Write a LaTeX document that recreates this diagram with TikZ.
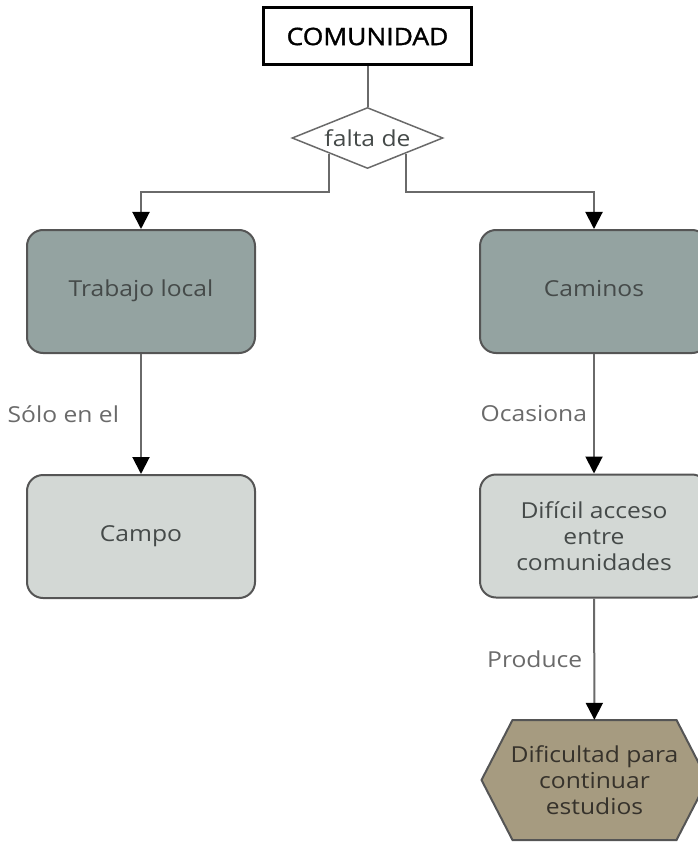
\documentclass[tikz,border=0pt]{standalone}
\usepackage{fontspec}
\setmainfont{Open Sans}[FakeStretch=1.12]
\newfontfamily\headfont{Open Sans}[FakeStretch=1.1, FakeBold=1.5]
\usetikzlibrary{arrows.meta,shapes.geometric,calc}
\definecolor{edgegray}{HTML}{6A6A6A}
\definecolor{boxline}{HTML}{555555}
\definecolor{darkfill}{HTML}{94A3A1}
\definecolor{lightfill}{HTML}{D3D8D5}
\definecolor{hexfill}{HTML}{A69B80}
\definecolor{textgray}{HTML}{454A49}
\definecolor{hextext}{HTML}{36322B}
\begin{document}
\begin{tikzpicture}[x=1pt,y=-1pt,
  every node/.style={font=\fontsize{22}{26}\selectfont},
  topbox/.style={draw=black, line width=3pt, minimum width=208pt, minimum height=57pt,
    inner sep=0pt, font=\headfont\fontsize{24}{28}\selectfont},
  decision/.style={diamond, aspect=2.5, draw=edgegray, line width=1.5pt, fill=white,
    minimum width=151pt, minimum height=61pt, inner sep=0pt, text=textgray},
  darkbox/.style={rounded corners=16pt, draw=boxline, line width=2pt, fill=darkfill,
    minimum width=228pt, minimum height=123pt, text=textgray, align=center},
  lightbox/.style={darkbox, fill=lightfill},
  hexbox/.style={draw=boxline, line width=2pt, fill=hexfill},
  link/.style={draw=edgegray, line width=2pt},
  flow/.style={link, -{Triangle[length=17pt,width=17pt,color=black]}},
  lbl/.style={text=edgegray, inner sep=0pt}
]
\useasboundingbox (0,0) rectangle (697,842);

% top concept and connector word
\node[topbox] (com) at (367.5,36.5) {COMUNIDAD};
\node[decision] (falta) at (367.5,138) {falta de};
\draw[link] (com) -- (falta);

% first level
\node[darkbox] (trab) at (141,291.5) {\strut Trabajo local};
\node[darkbox] (cam) at (594,291.5) {\strut Caminos};

\coordinate (lane) at (0,192);
\coordinate (fl) at ($(falta.west)!0.5!(falta.south)$);
\coordinate (fr) at ($(falta.east)!0.5!(falta.south)$);
\draw[flow] (fl) -- (fl |- lane) -| (trab.north);
\draw[flow] (fr) -- (fr |- lane) -| (cam.north);

% second level
\node[lightbox] (campo) at (141,536.5) {\strut Campo};
\node[lightbox] (acc) at (594,536) {Difícil acceso\\entre\\comunidades};
\draw[flow] (trab) -- node[lbl, left=21pt] {Sólo en el} (campo);
\draw[flow] (cam) -- node[lbl, left=6pt] {Ocasiona} (acc);

% consequence (hexagon)
\coordinate (hc) at (594.5,780);
\filldraw[hexbox] ($(hc)+(-113,0)$) -- ($(hc)+(-82,-60)$) -- ($(hc)+(82,-60)$)
  -- ($(hc)+(113,0)$) -- ($(hc)+(82,60)$) -- ($(hc)+(-82,60)$) -- cycle;
\node[minimum width=164pt, minimum height=120pt, inner sep=0pt, align=center,
  text=hextext] (dif) at (hc) {Dificultad para\\continuar\\estudios};
\draw[flow] (acc) -- node[lbl, left=11pt] {Produce} (dif);
\end{tikzpicture}
\end{document}
